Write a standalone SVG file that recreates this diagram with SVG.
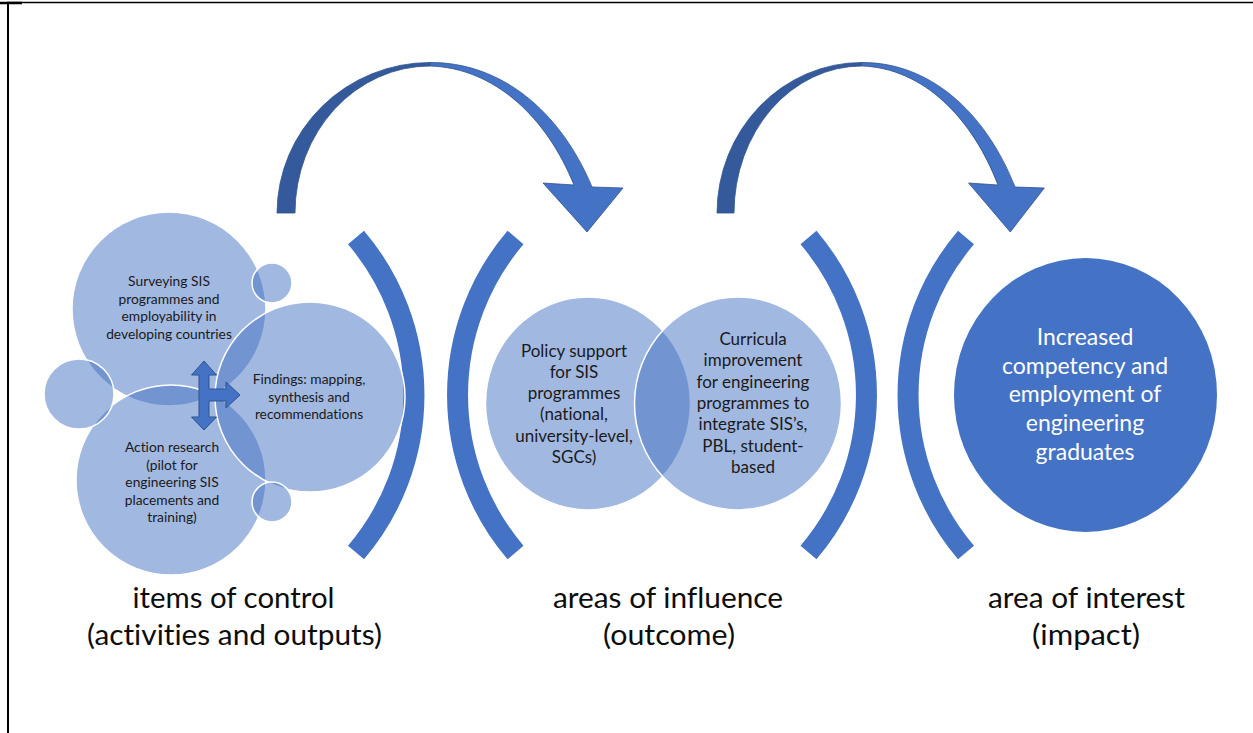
<svg xmlns="http://www.w3.org/2000/svg" width="1253" height="733" viewBox="0 0 1253 733">
<defs>
<style>
.bubble{fill:#4472C4;fill-opacity:0.5;stroke:#FFFFFF;stroke-width:1.5}
.solid{fill:#4472C4;stroke:none}
.bracket{fill:none;stroke:#4472C4;stroke-width:21;stroke-linecap:butt}
.back{fill:#345A9B;stroke:#2F528F;stroke-width:0.8}
.front{fill:#4472C4;stroke:#2F528F;stroke-width:0.8}
text{font-variant-ligatures:none;font-feature-settings:"liga" 0}
.t-s{font-family:Lato,"Liberation Sans",sans-serif;font-size:13.8px;fill:#1A1A1A;text-anchor:middle}
.t-m{font-family:Lato,"Liberation Sans",sans-serif;font-size:17px;fill:#1A1A1A;text-anchor:middle}
.t-w{font-family:Lato,"Liberation Sans",sans-serif;font-size:23px;fill:#FFFFFF;text-anchor:middle}
.t-l{font-family:Lato,"Liberation Sans",sans-serif;font-size:29px;font-weight:400;fill:#0D0D0D;text-anchor:middle}
</style>
</defs>
<rect x="0" y="0" width="1253" height="733" fill="#FFFFFF"/>
<g id="frame" stroke="#000000" fill="none">
<line x1="7" y1="2.5" x2="1253" y2="2.5" stroke-width="1.5"/>
<line x1="0" y1="3" x2="22" y2="3" stroke-width="2.5"/>
<line x1="8" y1="2" x2="8" y2="733" stroke-width="2"/>
</g>
<g id="connectors">
<g id="arrow-1">
<path class="back" d="M277,213 A153,151 0 0 1 430,62.5 L430,66 A135,147 0 0 0 295,213 Z"/>
<path class="front" d="M430,62.5 C500,62 560,110 592,187 L623,188 L587,232 L543,183 L574,185 C547,118 495,68 430,66 Z"/>
</g>
<g id="arrow-2">
<path class="back" d="M717,213 A144.7,151 0 0 1 861.7,62.5 L861.7,66 A127.7,147 0 0 0 734,213 Z"/>
<path class="front" d="M861.7,62.5 C928,62 984.7,110 1015,187 L1044.3,188 L1010.3,232 L968.6,183 L998,185 C972.4,118 923.2,68 861.7,66 Z"/>
</g>
<g id="brackets">
<path class="bracket" d="M356,237.5 A243,243 0 0 1 356,552.5"/>
<path class="bracket" d="M515.5,237.5 A243,243 0 0 0 515.5,552.5"/>
<path class="bracket" d="M808.5,237.5 A243,243 0 0 1 808.5,552.5"/>
<path class="bracket" d="M966,237.5 A243,243 0 0 0 966,552.5"/>
</g>
</g>
<g id="node-surveying">
<circle class="bubble" cx="169" cy="309" r="97"/>
</g>
<g id="node-action">
<circle class="bubble" cx="171" cy="480" r="95"/>
</g>
<g id="node-findings">
<circle class="bubble" cx="310" cy="397" r="95"/>
</g>
<g id="node-small-left">
<circle class="bubble" cx="79" cy="394" r="35"/>
</g>
<g id="node-small-top">
<circle class="bubble" cx="272" cy="283" r="20"/>
</g>
<g id="node-small-bottom">
<circle class="bubble" cx="272" cy="502" r="20"/>
</g>
<g id="cluster-arrow">
<path fill="#4472C4" stroke="#2F528F" stroke-width="1" d="M204,361 L216.5,375 L209,375 L209,389 L226,389 L226,382 L240,395 L226,408 L226,401 L209,401 L209,417 L216.5,417 L204,430 L191.5,417 L199,417 L199,375 L191.5,375 Z"/>
</g>
<g id="text-surveying" class="t-s">
<text x="169" y="286">Surveying SIS</text>
<text x="169" y="303.7">programmes and</text>
<text x="169" y="321.4">employability in</text>
<text x="169" y="339">developing countries</text>
</g>
<g id="text-findings" class="t-s">
<text x="309" y="384">Findings: mapping,</text>
<text x="309" y="401.7">synthesis and</text>
<text x="309" y="419.4">recommendations</text>
</g>
<g id="text-action" class="t-s">
<text x="172" y="452">Action research</text>
<text x="172" y="469.5">(pilot for</text>
<text x="172" y="487">engineering SIS</text>
<text x="172" y="504.5">placements and</text>
<text x="172" y="521.5">training)</text>
</g>
<g id="node-policy">
<ellipse class="bubble" cx="588" cy="403.5" rx="102.5" ry="106.5"/>
</g>
<g id="node-curricula">
<ellipse class="bubble" cx="738" cy="403.5" rx="103.5" ry="106.5"/>
</g>
<g id="text-policy" class="t-m">
<text x="574" y="356.5">Policy support</text>
<text x="574" y="377.8">for SIS</text>
<text x="574" y="399.1">programmes</text>
<text x="574" y="420.4">(national,</text>
<text x="574" y="441.7">university-level,</text>
<text x="574" y="463">SGCs)</text>
</g>
<g id="text-curricula" class="t-m">
<text x="753" y="345">Curricula</text>
<text x="753" y="366.3">improvement</text>
<text x="753" y="387.7">for engineering</text>
<text x="753" y="409">programmes to</text>
<text x="753" y="430.3">integrate SIS’s,</text>
<text x="753" y="451.7">PBL, student-</text>
<text x="753" y="473">based</text>
</g>
<g id="node-impact">
<ellipse class="solid" cx="1085.5" cy="395" rx="131.5" ry="137"/>
<g class="t-w">
<text x="1085" y="345">Increased</text>
<text x="1085" y="373.7">competency and</text>
<text x="1085" y="402.4">employment of</text>
<text x="1085" y="431.1">engineering</text>
<text x="1085" y="459.8">graduates</text>
</g>
</g>
<g id="label-control" class="t-l">
<text x="233.5" y="608" textLength="202" lengthAdjust="spacingAndGlyphs">items of control</text>
<text x="234.5" y="645" textLength="295" lengthAdjust="spacingAndGlyphs">(activities and outputs)</text>
</g>
<g id="label-influence" class="t-l">
<text x="668" y="608" textLength="230" lengthAdjust="spacingAndGlyphs">areas of influence</text>
<text x="669" y="645" textLength="132" lengthAdjust="spacingAndGlyphs">(outcome)</text>
</g>
<g id="label-interest" class="t-l">
<text x="1086.5" y="608" textLength="197" lengthAdjust="spacingAndGlyphs">area of interest</text>
<text x="1086" y="645" textLength="108" lengthAdjust="spacingAndGlyphs">(impact)</text>
</g>
</svg>
